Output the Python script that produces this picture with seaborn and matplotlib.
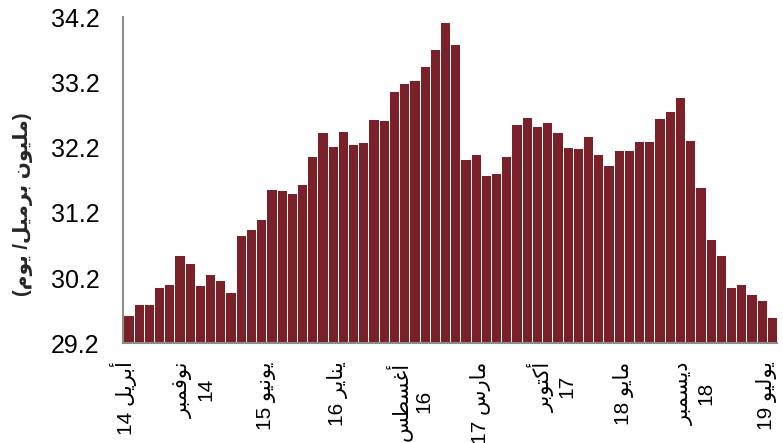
import numpy as np
import pandas as pd
import seaborn as sns
import matplotlib.pyplot as plt

# monthly values, April 2014 .. July 2019 (million barrels / day)
months = pd.date_range('2014-04-01', '2019-07-01', freq='MS').strftime('%Y-%m').tolist()
values = [29.63, 29.81, 29.80, 30.06, 30.11, 30.56, 30.43, 30.10, 30.26, 30.17,
          29.98, 30.86, 30.95, 31.10, 31.57, 31.55, 31.50, 31.64, 32.08, 32.44,
          32.22, 32.45, 32.25, 32.29, 32.64, 32.63, 33.07, 33.19, 33.24, 33.46,
          33.72, 34.12, 33.79, 32.03, 32.10, 31.78, 31.81, 32.08, 32.56, 32.67,
          32.54, 32.60, 32.44, 32.21, 32.19, 32.38, 32.10, 31.93, 32.16, 32.16,
          32.30, 32.30, 32.65, 32.77, 32.98, 32.32, 31.60, 30.80, 30.56, 30.06,
          30.11, 29.96, 29.86, 29.61]

# tick labels every 7 months (month word, year, two-line or not)
tick_months = ['أبريل', 'نوفمبر', 'يونيو', 'يناير', 'أغسطس', 'مارس', 'أكتوبر', 'مايو', 'ديسمبر', 'يوليو']
tick_years = ['14', '14', '15', '16', '16', '17', '17', '18', '18', '19']
tick_wrap = [False, True, False, False, True, False, True, False, True, False]
y_ticks = [29.2, 30.2, 31.2, 32.2, 33.2, 34.2]
ylabel_words = ['مليون', 'برميل/', 'يوم']

# matplotlib does no arabic shaping, so map letters to presentation forms by hand
FORMS = {
    'ا': ('\ufe8d', '\ufe8e'),
    'أ': ('\ufe83', '\ufe84'),
    'ب': ('\ufe8f', '\ufe90', '\ufe91', '\ufe92'),
    'ت': ('\ufe95', '\ufe96', '\ufe97', '\ufe98'),
    'د': ('\ufea9', '\ufeaa'),
    'ر': ('\ufead', '\ufeae'),
    'س': ('\ufeb1', '\ufeb2', '\ufeb3', '\ufeb4'),
    'ط': ('\ufec1', '\ufec2', '\ufec3', '\ufec4'),
    'غ': ('\ufecd', '\ufece', '\ufecf', '\ufed0'),
    'ف': ('\ufed1', '\ufed2', '\ufed3', '\ufed4'),
    'ك': ('\ufed9', '\ufeda', '\ufedb', '\ufedc'),
    'ل': ('\ufedd', '\ufede', '\ufedf', '\ufee0'),
    'م': ('\ufee1', '\ufee2', '\ufee3', '\ufee4'),
    'ن': ('\ufee5', '\ufee6', '\ufee7', '\ufee8'),
    'و': ('\ufeed', '\ufeee'),
    'ي': ('\ufef1', '\ufef2', '\ufef3', '\ufef4'),
}


def shape(word):
    out = []
    for i, c in enumerate(word):
        f = FORMS.get(c)
        if f is None:
            out.append(c)
            continue
        prev = word[i - 1] if i > 0 else None
        nxt = word[i + 1] if i + 1 < len(word) else None
        jp = prev in FORMS and len(FORMS[prev]) == 4
        jn = len(f) == 4 and nxt in FORMS
        if jp and jn:
            out.append(f[3])
        elif jp:
            out.append(f[1])
        elif jn:
            out.append(f[2])
        else:
            out.append(f[0])
    return ''.join(reversed(out))  # visual (left to right) order


tick_labels = []
for m, y, w in zip(tick_months, tick_years, tick_wrap):
    if w:
        tick_labels.append(shape(m) + '\n' + y)
    else:
        tick_labels.append(y + ' ' + shape(m))
ylabel = '(' + ' '.join(shape(w) for w in reversed(ylabel_words)) + ')'

sns.set_style('white')
plt.rcParams['font.family'] = ['Liberation Sans', 'DejaVu Sans']

df = pd.DataFrame({'month': months, 'value': values})

fig = plt.figure(figsize=(7.83, 4.43), dpi=100)
ax = fig.add_axes([0.1575, 0.225, 0.8349, 0.736])
sns.barplot(data=df, x='month', y='value', color='#7A2029', saturation=1,
            width=1, edgecolor='white', linewidth=0.7, ax=ax)

ax.set_ylim(29.2, 34.2)
ax.set_xlim(-0.5, len(months) - 0.5)
ax.set_yticks(y_ticks)
ax.set_yticklabels([f'{t:.1f}' for t in y_ticks], fontsize=18)
ax.set_xticks(np.arange(0, len(months), 7) - 0.5)
ax.set_xticklabels(tick_labels, rotation=90, fontsize=15, ha='center', va='top',
                   multialignment='center')
ax.set_xlabel('')
ax.set_ylabel('')

for s in ['top', 'right']:
    ax.spines[s].set_visible(False)
for s in ['left', 'bottom']:
    ax.spines[s].set_color('#8c8c8c')
    ax.spines[s].set_linewidth(1.5)
ax.tick_params(axis='both', direction='out', length=6, width=1.5, color='#8c8c8c',
               labelcolor='black')
ax.tick_params(axis='y', pad=11)
ax.tick_params(axis='x', pad=7)

fig.text(0.029, 0.539, ylabel, rotation=90, ha='center', va='center',
         fontsize=14.5, fontweight='bold')

fig.savefig('out.png', dpi=100)
